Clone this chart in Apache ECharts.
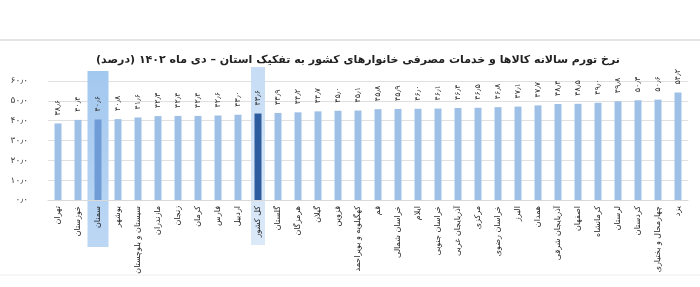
<!DOCTYPE html>
<html>
<head>
<meta charset="utf-8">
<script src="https://cdn.jsdelivr.net/npm/echarts@6/dist/echarts.min.js"></script>
<style>html,body{margin:0;padding:0;background:#fff}#c{width:700px;height:287px}</style>
</head>
<body>
<div id="c"></div>
<script>
const titleText = 'نرخ تورم سالانه کالاها و خدمات مصرفی خانوارهای کشور به تفکیک استان – دی ماه ۱۴۰۲ (درصد)';
const categories = ['تهران','خوزستان','سمنان','بوشهر','سیستان و بلوچستان','مازندران','زنجان','کرمان','فارس','اردبیل','کل کشور','گلستان','هرمزگان','گیلان','قزوین','کهگیلویه و بویراحمد','قم','خراسان شمالی','ایلام','خراسان جنوبی','آذربایجان غربی','مرکزی','خراسان رضوی','البرز','همدان','آذربایجان شرقی','اصفهان','کرمانشاه','لرستان','کردستان','چهارمحال و بختیاری','یزد'];
const values = [38.6, 40.4, 40.6, 40.8, 41.6, 42.3, 42.4, 42.4, 42.6, 43.0, 43.6, 43.9, 44.2, 44.7, 45.0, 45.1, 45.8, 45.9, 46.0, 46.1, 46.4, 46.5, 46.8, 47.1, 47.7, 48.4, 48.5, 49.0, 49.8, 50.3, 50.6, 54.2];
const yTicks = [0, 10, 20, 30, 40, 50, 60];
const highlightSemnan = 'سمنان';
const highlightTotal = 'کل کشور';

const fa = s => String(s).replace(/\d/g, d => '۰۱۲۳۴۵۶۷۸۹'[d]).replace('.', '٫');
const FONT = 'DejaVu Sans';

const chart = echarts.init(document.getElementById('c'), null, {renderer: 'canvas'});
const barData = values.map((v, i) => {
  let color = '#9fc0e6';
  if (categories[i] === highlightSemnan) color = '#6f9cd6';
  if (categories[i] === highlightTotal) color = '#2d5c9f';
  return {value: v, itemStyle: {color}};
});

chart.setOption({
  animation: false,
  backgroundColor: '#fff',
  title: {
    text: titleText, left: 353, top: 50, textAlign: 'center',
    textStyle: {fontFamily: FONT, fontSize: 11, fontWeight: 'bold', color: '#222'}
  },
  grid: {left: 48, right: 12, top: 81, bottom: 87, containLabel: false},
  xAxis: {
    type: 'category', data: categories,
    axisTick: {show: false},
    axisLine: {lineStyle: {color: '#d9d9d9'}},
    axisLabel: {interval: 0, rotate: 90, fontFamily: FONT, fontSize: 8, color: '#222', margin: 6}
  },
  yAxis: {
    type: 'value', min: yTicks[0], max: yTicks[yTicks.length - 1], interval: 10,
    axisLine: {show: false}, axisTick: {show: false},
    splitLine: {lineStyle: {color: '#e0e0e0'}},
    axisLabel: {fontFamily: FONT, fontSize: 9, color: '#444', margin: 20,
      formatter: v => fa(v.toFixed(1)), padding: [0, 0, 10, 0]}
  },
  series: [{
    type: 'bar', data: barData, barWidth: 7, z: 3,
    label: {
      show: true, position: 'top', rotate: 90, align: 'left', verticalAlign: 'middle',
      distance: 8, fontFamily: FONT, fontSize: 8, color: '#333',
      formatter: p => fa(p.value.toFixed(1))
    }
  }]
});

const y60 = chart.convertToPixel({yAxisIndex: 0}, 60);
const y0 = chart.convertToPixel({yAxisIndex: 0}, 0);
const xs = chart.convertToPixel({xAxisIndex: 0}, highlightSemnan);
const xt = chart.convertToPixel({xAxisIndex: 0}, highlightTotal);

chart.setOption({
  graphic: [
    {type: 'rect', z: 0, shape: {x: xs - 10.5, y: y60 - 10, width: 21, height: (y0 + 47) - (y60 - 10)},
      style: {fill: new echarts.graphic.LinearGradient(0, 0, 0, 1, [{offset: 0, color: '#a3c8ef'}, {offset: 1, color: '#bcd7f4'}])}},
    {type: 'rect', z: 0, shape: {x: xt - 7, y: y60 - 14, width: 14, height: (y0 + 45) - (y60 - 14)},
      style: {fill: new echarts.graphic.LinearGradient(0, 0, 0, 1, [{offset: 0, color: '#c6ddf5'}, {offset: 1, color: '#dbe9f8'}])}},
    {type: 'line', z: 0, shape: {x1: 0, y1: 40, x2: 700, y2: 40}, style: {stroke: '#e4e4e4', lineWidth: 2}},
    {type: 'line', z: 0, shape: {x1: 0, y1: 275, x2: 700, y2: 275}, style: {stroke: '#eeeeee', lineWidth: 1}}
  ]
});
</script>
</body>
</html>
